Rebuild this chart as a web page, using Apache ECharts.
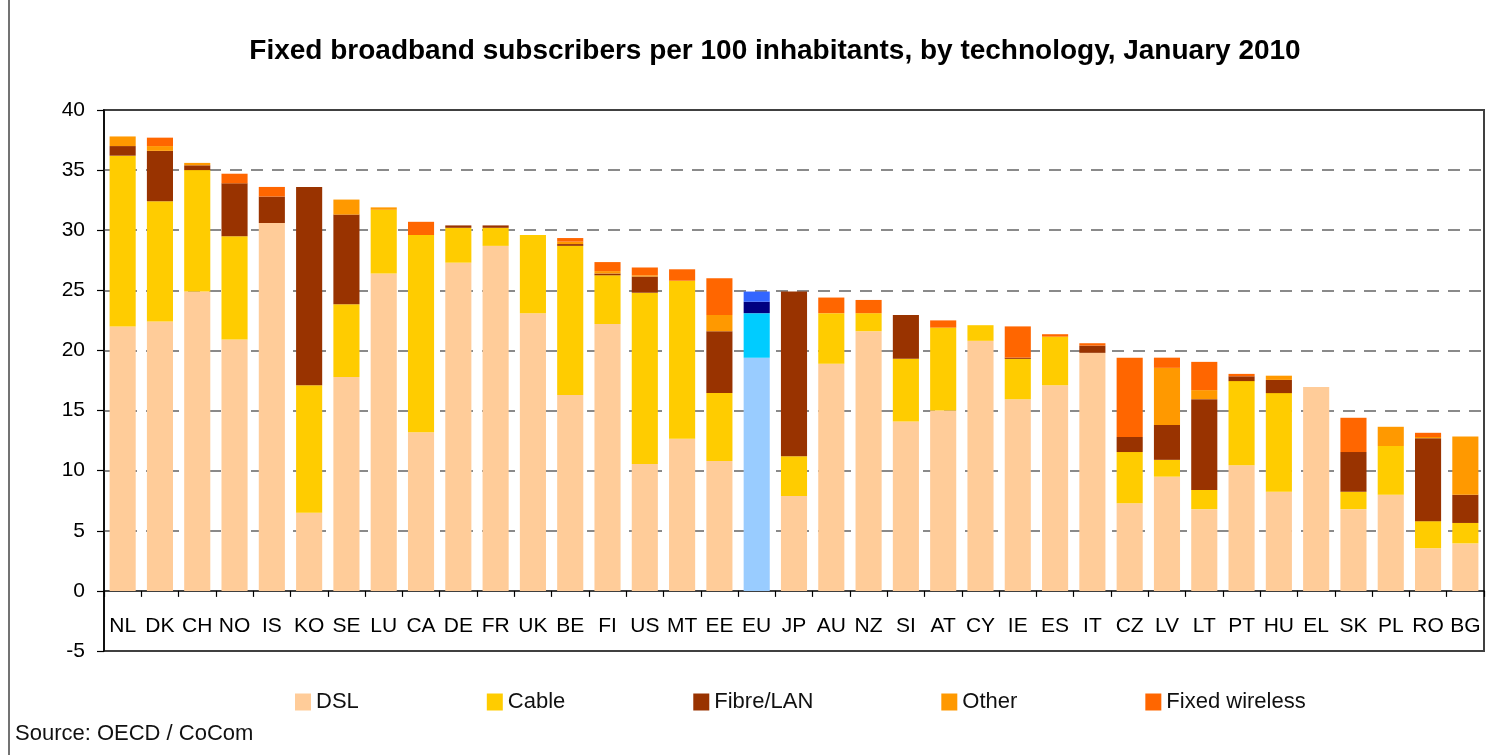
<!DOCTYPE html>
<html>
<head>
<meta charset="utf-8">
<script src="https://cdn.jsdelivr.net/npm/echarts@6/dist/echarts.min.js"></script>
<style>
html,body{margin:0;padding:0;background:#fff;}
#chart{width:1510px;height:755px;}
</style>
</head>
<body>
<div id="chart"></div>
<script>
var categories = ['NL','DK','CH','NO','IS','KO','SE','LU','CA','DE','FR','UK','BE','FI','US','MT','EE','EU','JP','AU','NZ','SI','AT','CY','IE','ES','IT','CZ','LV','LT','PT','HU','EL','SK','PL','RO','BG'];
var dsl   = [22.0,22.4,24.9,20.9,30.6,6.5,17.8,26.4,13.2,27.3,28.7,23.1,16.3,22.2,10.55,12.65,10.8,19.4,7.9,18.9,21.6,14.1,15.0,20.8,15.95,17.1,19.8,7.3,9.5,6.8,10.45,8.25,16.95,6.8,8.0,3.55,3.95];
var cable = [14.2,10.0,10.1,8.6,0,10.6,6.05,5.3,16.4,2.9,1.5,6.5,12.4,4.05,14.25,13.15,5.65,3.7,3.3,4.2,1.5,5.2,6.9,1.3,3.35,4.05,0,4.25,1.4,1.6,7.0,8.2,0,1.45,4.05,2.25,1.7];
var fibre = [0.8,4.2,0.4,4.4,2.2,16.5,7.45,0,0,0.2,0.2,0,0.15,0.15,1.35,0,5.15,0.95,13.7,0,0,3.65,0,0,0.1,0,0.6,1.25,2.9,7.55,0.4,1.1,0,3.3,0,6.9,2.35];
var other = [0.8,0.4,0.2,0,0,0,1.25,0.2,0,0,0,0,0.2,0.2,0.1,0,1.35,0.85,0,0,0,0,0,0,0,0,0,0,4.75,0.75,0,0.35,0,0,1.6,0.1,4.85];
var fixedWireless = [0,0.7,0,0.8,0.8,0,0,0,1.1,0,0,0,0.3,0.75,0.65,0.95,3.05,0,0,1.3,1.1,0,0.6,0,2.6,0.2,0.2,6.6,0.85,2.35,0.2,0,0,2.85,0,0.35,0];
var seriesNames = ['DSL','Cable','Fibre/LAN','Other','Fixed wireless'];
var yTicks = [-5,0,5,10,15,20,25,30,35,40];
var title = 'Fixed broadband subscribers per 100 inhabitants, by technology, January 2010';
var source = 'Source: OECD / CoCom';

var colors = ['#FFCC99','#FFCC00','#993300','#FF9900','#FF6600'];
var euColors = ['#99CCFF','#00CCFF','#000080','#3366FF','#3366FF'];
var allData = [dsl, cable, fibre, other, fixedWireless];
var FONT = '"Liberation Sans", Arial, sans-serif';

var series = seriesNames.map(function(name, k){
  return {
    name: name,
    type: 'bar',
    stack: 'total',
    barWidth: '70%',
    itemStyle: {color: colors[k]},
    emphasis: {disabled: true},
    data: allData[k].map(function(v, i){
      if (categories[i] === 'EU') return {value: v, itemStyle: {color: euColors[k]}};
      return v;
    })
  };
});

var splitColors = yTicks.map(function(t){ return (t <= 0 || t >= 40) ? 'rgba(0,0,0,0)' : '#8a8a8a'; });

var chart = echarts.init(document.getElementById('chart'), null, {renderer: 'canvas'});
chart.setOption({
  animation: false,
  backgroundColor: '#ffffff',
  title: {
    text: title,
    left: 770,
    textAlign: 'center',
    top: 32,
    textStyle: {fontFamily: FONT, fontSize: 28, fontWeight: 'bold', color: '#000'}
  },
  legend: {
    data: seriesNames,
    left: 290,
    top: 686,
    icon: 'rect',
    itemWidth: 16,
    itemHeight: 17,
    itemGap: 128,
    textStyle: {fontFamily: FONT, fontSize: 22, color: '#111'},
    selectedMode: false
  },
  grid: {
    left: 104, right: 26, top: 110, bottom: 104,
    show: true, borderColor: '#404040', borderWidth: 2, backgroundColor: 'transparent'
  },
  xAxis: {
    type: 'category',
    data: categories,
    axisLine: {onZero: true, lineStyle: {color: '#000', width: 1.5}},
    axisTick: {show: true, length: 6, lineStyle: {color: '#000', width: 1.2}},
    axisLabel: {interval: 0, margin: -35, fontFamily: FONT, fontSize: 21, color: '#000'}
  },
  yAxis: {
    type: 'value',
    min: -5, max: 40, interval: 5,
    axisLine: {show: true, lineStyle: {color: '#000', width: 1.5}},
    axisTick: {show: true, length: 7, lineStyle: {color: '#000', width: 1.2}},
    axisLabel: {margin: 19, fontFamily: FONT, fontSize: 21, color: '#000'},
    splitLine: {show: true, lineStyle: {color: splitColors, width: 2, type: [12, 9]}}
  },
  graphic: [
    {type: 'line', shape: {x1: 9, y1: 0, x2: 9, y2: 755}, style: {stroke: '#444', lineWidth: 1.5}},
    {type: 'text', left: 15, top: 723, style: {text: source, font: '22px "Liberation Sans", Arial, sans-serif', fill: '#111'}}
  ],
  series: series
});
</script>
</body>
</html>
